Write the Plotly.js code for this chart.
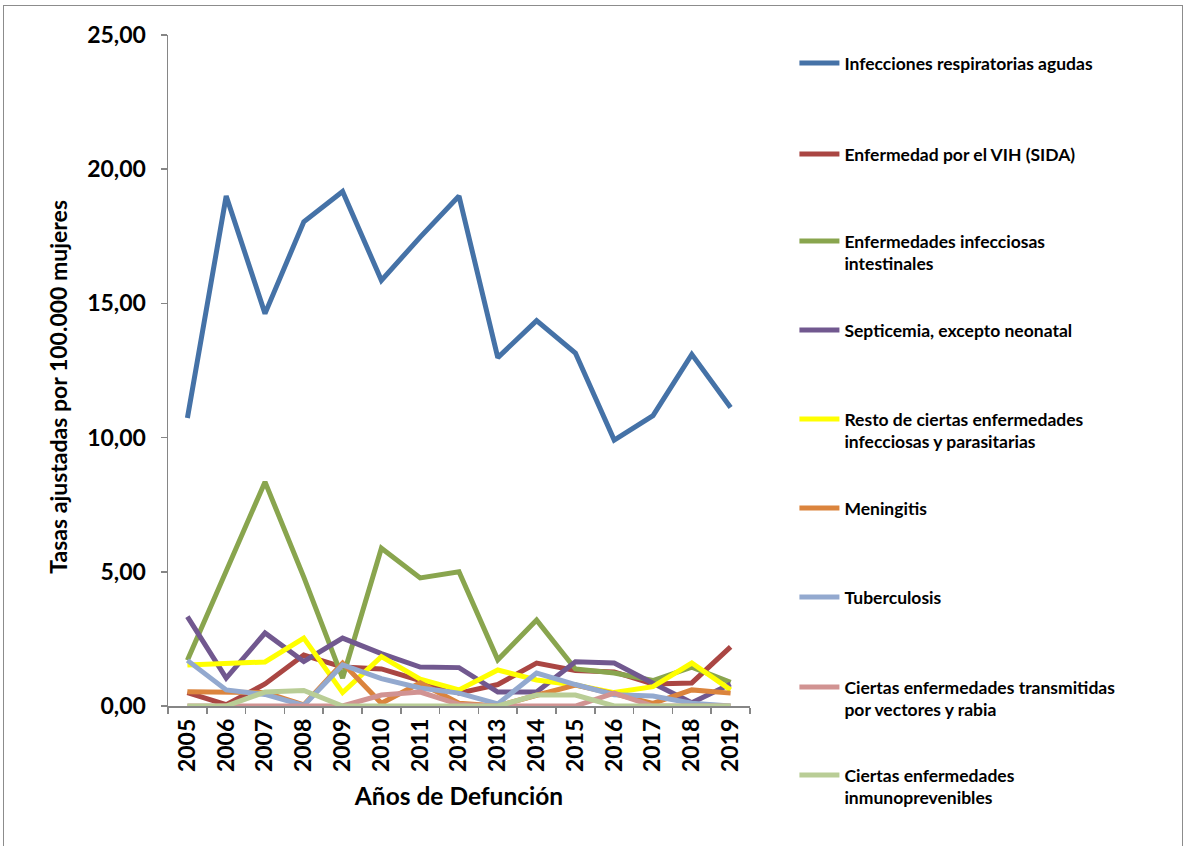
<!DOCTYPE html>
<html>
<head>
<meta charset="utf-8">
<script src="https://cdn.plot.ly/plotly-3.0.1.min.js"></script>
<style>
  html, body { margin: 0; padding: 0; background: #fff; }
  #wrap { position: relative; width: 1186px; height: 846px; overflow: hidden; }
  #chart { position: absolute; left: 0; top: 0; width: 1186px; height: 846px; }
  #frame { position: absolute; left: 3px; top: 5px; width: 1178px; height: 860px;
           border: 1.5px solid #8c8c8c; pointer-events: none; }
</style>
</head>
<body>
<div id="wrap"><div id="chart"></div><div id="frame"></div></div>
<script>
// ---- data ----
const years = ["2005","2006","2007","2008","2009","2010","2011","2012","2013","2014","2015","2016","2017","2018","2019"];
const seriesNames = [
  "Infecciones respiratorias agudas",
  "Enfermedad por el VIH (SIDA)",
  "Enfermedades infecciosas<br>intestinales",
  "Septicemia, excepto neonatal",
  "Resto de ciertas enfermedades<br>infecciosas y parasitarias",
  "Meningitis",
  "Tuberculosis",
  "Ciertas enfermedades transmitidas<br>por vectores y rabia",
  "Ciertas enfermedades<br>inmunoprevenibles"
];
const infeccionesRespiratorias = [10.73, 19.00, 14.62, 18.04, 19.17, 15.86, 17.47, 19.00, 12.98, 14.36, 13.15, 9.91, 10.82, 13.10, 11.12];
const vih                      = [0.50, 0.05, 0.82, 1.90, 1.45, 1.38, 0.95, 0.48, 0.80, 1.60, 1.32, 1.27, 0.82, 0.86, 2.20];
const intestinales             = [1.70, 5.00, 8.35, 4.80, 1.04, 5.88, 4.77, 5.00, 1.72, 3.20, 1.38, 1.23, 0.95, 1.45, 0.88];
const septicemia               = [3.33, 1.04, 2.72, 1.66, 2.53, 1.95, 1.45, 1.43, 0.52, 0.52, 1.65, 1.60, 0.85, 0.12, 0.82];
const restoInfecciosas         = [1.53, 1.60, 1.64, 2.53, 0.50, 1.84, 1.00, 0.60, 1.34, 0.97, 0.78, 0.50, 0.72, 1.60, 0.60];
const meningitis               = [0.53, 0.53, 0.50, 0.04, 1.60, 0.10, 0.86, 0.10, 0.00, 0.40, 0.78, 0.45, 0.10, 0.60, 0.48];
const tuberculosis             = [1.70, 0.60, 0.43, 0.02, 1.53, 1.02, 0.67, 0.48, 0.08, 1.23, 0.80, 0.42, 0.37, 0.10, 0.00];
const vectores                 = [0.00, 0.00, 0.00, 0.00, 0.00, 0.41, 0.52, 0.06, 0.00, 0.00, 0.00, 0.48, 0.00, 0.00, 0.00];
const inmunoprevenibles        = [0.00, 0.00, 0.52, 0.58, 0.00, 0.00, 0.00, 0.00, 0.00, 0.41, 0.41, 0.00, 0.00, 0.00, 0.00];
const yTickVals = [0, 5, 10, 15, 20, 25];
const xTitle = "Años de Defunción";
const yTitle = "Tasas ajustadas por 100.000 mujeres";

// ---- styling ----
const allSeries = [infeccionesRespiratorias, vih, intestinales, septicemia, restoInfecciosas, meningitis, tuberculosis, vectores, inmunoprevenibles];
const colors = ["#4572A7", "#AA4643", "#89A54E", "#71588F", "#FFFF00", "#DB843D", "#93A9CF", "#D19392", "#B9CD96"];
const FONT = "Lato, 'Open Sans', 'DejaVu Sans', sans-serif";

const W = 1186, H = 846;
const M = { l: 167.5, r: 1186 - 750.5, t: 35, b: 846 - 706 };
const plotW = W - M.l - M.r, plotH = H - M.t - M.b;
const px2x = px => (px - M.l) / plotW;
const py2y = py => (H - M.b - py) / plotH;

// legend entry first-line centres (pixels)
const legendRows = [64, 155, 242, 331, 420, 509, 598, 688, 776];
const legendX = 795;

const traces = allSeries.map((vals, i) => ({
  type: "scatter",
  mode: "lines",
  x: years,
  y: vals,
  name: seriesNames[i],
  line: { color: colors[i], width: 5 },
  legend: i === 0 ? "legend" : "legend" + (i + 1),
  hoverinfo: "x+y+name"
}));

const layout = {
  width: W, height: H,
  margin: M,
  paper_bgcolor: "#ffffff",
  plot_bgcolor: "#ffffff",
  separators: ",.",
  showlegend: true,
  font: { family: FONT, color: "#000" },
  xaxis: {
    type: "category",
    range: [-0.5, years.length - 0.5],
    tickangle: -90,
    tickson: "boundaries",
    ticks: "outside",
    ticklen: 6,
    tickcolor: "#868686",
    tickwidth: 1.5,
    showline: true,
    linecolor: "#868686",
    linewidth: 1.5,
    showgrid: false,
    zeroline: false,
    ticklabelstandoff: 2,
    tickfont: { family: FONT, size: 23, weight: "bold", color: "#000" },
    title: { text: xTitle, font: { family: FONT, size: 24.5, weight: "bold", color: "#000" }, standoff: 17 },
    automargin: false
  },
  yaxis: {
    range: [0, 25],
    tickvals: yTickVals,
    tickformat: ".2f",
    ticks: "outside",
    ticklen: 6,
    tickcolor: "#868686",
    tickwidth: 1.5,
    showline: true,
    linecolor: "#868686",
    linewidth: 1.5,
    showgrid: false,
    zeroline: false,
    ticklabelstandoff: 10,
    tickfont: { family: FONT, size: 23, weight: "bold", color: "#000" },
    automargin: false
  },
  annotations: [{
    text: yTitle,
    xref: "paper", yref: "paper",
    x: px2x(57), y: py2y(387),
    xanchor: "center", yanchor: "middle",
    textangle: -90,
    showarrow: false,
    font: { family: FONT, size: 23, weight: "bold", color: "#000" }
  }]
};

legendRows.forEach((py, i) => {
  const key = i === 0 ? "legend" : "legend" + (i + 1);
  layout[key] = {
    x: px2x(legendX), xanchor: "left",
    y: py2y(py - 19), yanchor: "top",
    valign: "top",
    bgcolor: "rgba(0,0,0,0)",
    borderwidth: 0,
    itemwidth: 40,
    font: { family: FONT, size: 17.5, weight: "bold", color: "#000" }
  };
});

Plotly.newPlot("chart", traces, layout, { displayModeBar: false, staticPlot: true });
</script>
</body>
</html>
